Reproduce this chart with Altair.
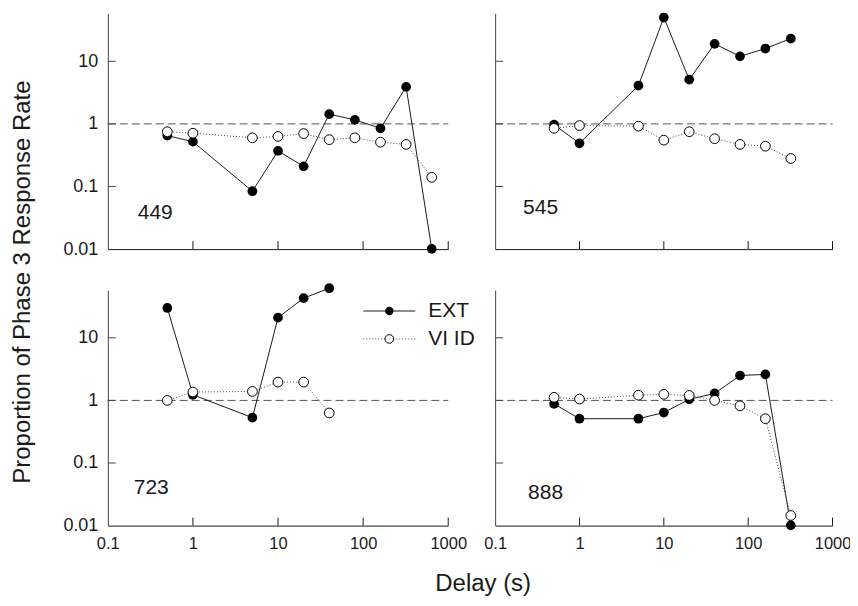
import altair as alt
import pandas as pd

# ---- data ----
delays = [0.5, 1, 5, 10, 20, 40, 80, 160, 320, 640]
subjects = ["449", "545", "723", "888"]
series_names = ["EXT", "VI ID"]

ext_449 = [0.65, 0.52, 0.084, 0.37, 0.21, 1.43, 1.16, 0.85, 3.9, 0.0101]
vi_449 = [0.75, 0.71, 0.60, 0.63, 0.70, 0.56, 0.60, 0.51, 0.47, 0.14]

ext_545 = [0.97, 0.49, 4.1, 50, 5.1, 19, 12, 16, 23]
vi_545 = [0.85, 0.94, 0.92, 0.55, 0.75, 0.58, 0.47, 0.44, 0.28]

ext_723 = [30, 1.23, 0.53, 21, 43, 62]
vi_723 = [1.0, 1.36, 1.39, 1.96, 1.96, 0.63]

ext_888 = [0.88, 0.51, 0.51, 0.64, 1.04, 1.29, 2.5, 2.6, 0.0101]
vi_888 = [1.12, 1.05, 1.21, 1.25, 1.2, 1.0, 0.82, 0.51, 0.0145]

x_ticks = [0.1, 1, 10, 100, 1000]
y_ticks = [0.01, 0.1, 1, 10]
x_domain = [0.1, 1000]
y_domain = [0.01, 58]
reference_level = [1]
x_title = "Delay (s)"
y_title = "Proportion of Phase 3 Response Rate"

# ---- styling ----
W_LEFT, W_RIGHT, H = 341, 338, 236
FONT = "Liberation Sans"
INK = "#1a1a1a"
TICK = 8


def panel(subject, ext, vi, width, show_x, show_y, legend=False, ytitle=False,
          xtitle=False, label_pos=(30, 206)):
    xs = alt.Scale(type="log", domain=x_domain, nice=False)
    ys = alt.Scale(type="log", domain=y_domain, nice=False)
    xaxis = alt.Axis(values=x_ticks, format="~g", labels=show_x, ticks=False, grid=False,
                     domainColor=INK, domainWidth=1, title=None, labelFontSize=16.5,
                     labelFont=FONT, labelColor=INK, labelPadding=10, labelFlush=False,
                     labelOverlap=False)
    yaxis = alt.Axis(values=y_ticks, format="~g", labels=show_y, ticks=False, grid=False,
                     domainColor="#444", domainWidth=1, title=None, labelFontSize=18,
                     labelFont=FONT, labelColor=INK, labelPadding=10, labelFlush=False,
                     labelOverlap=False)

    def X(f):
        return alt.X(f, type="quantitative", scale=xs, axis=xaxis)

    def Y(f):
        return alt.Y(f, type="quantitative", scale=ys, axis=yaxis)

    df_ext = pd.DataFrame({"delay": delays[:len(ext)], "value": ext})
    df_vi = pd.DataFrame({"delay": delays[:len(vi)], "value": vi})

    layers = []
    layers.append(
        alt.Chart(pd.DataFrame({"level": reference_level}))
        .mark_rule(color="#555", strokeDash=[8, 4], strokeWidth=1)
        .encode(y=Y("level"), x=alt.value(0), x2=alt.value(width))
    )
    layers.append(
        alt.Chart(pd.DataFrame({"t": x_ticks[1:]}))
        .mark_rule(color=INK, strokeWidth=1)
        .encode(x=X("t"), y=alt.value(H), y2=alt.value(H - TICK))
    )
    layers.append(
        alt.Chart(pd.DataFrame({"t": y_ticks[1:]}))
        .mark_rule(color="#444", strokeWidth=1)
        .encode(y=Y("t"), x=alt.value(0), x2=alt.value(TICK))
    )
    layers.append(
        alt.Chart(df_ext).mark_line(color=INK, strokeWidth=1)
        .encode(x=X("delay"), y=Y("value"))
    )
    layers.append(
        alt.Chart(df_ext).mark_circle(color="black", opacity=1, size=95)
        .encode(x=X("delay"), y=Y("value"))
    )
    layers.append(
        alt.Chart(df_vi).mark_line(color="#444", strokeWidth=1, strokeDash=[1, 2])
        .encode(x=X("delay"), y=Y("value"))
    )
    layers.append(
        alt.Chart(df_vi).mark_circle(fill="white", stroke="black", strokeWidth=1,
                                     opacity=1, fillOpacity=1, size=95)
        .encode(x=X("delay"), y=Y("value"))
    )
    layers.append(
        alt.Chart(pd.DataFrame({"s": [subject]}))
        .mark_text(font=FONT, fontSize=21, color=INK, align="left", baseline="alphabetic")
        .encode(text="s:N", x=alt.value(label_pos[0]), y=alt.value(label_pos[1]))
    )
    if ytitle:
        layers.append(
            alt.Chart(pd.DataFrame({"s": [y_title]}))
            .mark_text(font=FONT, fontSize=24, color=INK, angle=270, align="center",
                       baseline="alphabetic")
            .encode(text="s:N", x=alt.value(-78), y=alt.value(269))
        )
    if xtitle:
        layers.append(
            alt.Chart(pd.DataFrame({"s": [x_title]}))
            .mark_text(font=FONT, fontSize=24, color=INK, align="center",
                       baseline="alphabetic")
            .encode(text="s:N", x=alt.value(376), y=alt.value(301.5))
        )
    if legend:
        rows = [(series_names[0], 21), (series_names[1], 49)]
        for i, (name, yy) in enumerate(rows):
            d = pd.DataFrame({"s": [name]})
            if i == 0:
                layers.append(alt.Chart(d).mark_rule(color=INK, strokeWidth=1)
                              .encode(x=alt.value(256), x2=alt.value(308), y=alt.value(yy)))
                layers.append(alt.Chart(d).mark_circle(color="black", opacity=1, size=70)
                              .encode(x=alt.value(282), y=alt.value(yy)))
            else:
                layers.append(alt.Chart(d).mark_rule(color="#444", strokeWidth=1,
                                                     strokeDash=[1, 2])
                              .encode(x=alt.value(256), x2=alt.value(308), y=alt.value(yy)))
                layers.append(alt.Chart(d).mark_circle(fill="white", stroke="black",
                                                       strokeWidth=1, opacity=1,
                                                       fillOpacity=1, size=75)
                              .encode(x=alt.value(282), y=alt.value(yy)))
            layers.append(alt.Chart(d).mark_text(font=FONT, fontSize=21, color=INK,
                                                 align="left", baseline="middle")
                          .encode(text="s:N", x=alt.value(321), y=alt.value(yy)))
    return alt.layer(*layers).properties(width=width, height=H)


p449 = panel(subjects[0], ext_449, vi_449, W_LEFT, show_x=False, show_y=True, ytitle=True,
             label_pos=(30, 206))
p545 = panel(subjects[1], ext_545, vi_545, W_RIGHT, show_x=False, show_y=False,
             label_pos=(28, 201))
p723 = panel(subjects[2], ext_723, vi_723, W_LEFT, show_x=True, show_y=True, legend=True,
             xtitle=True, label_pos=(26, 204))
p888 = panel(subjects[3], ext_888, vi_888, W_RIGHT, show_x=True, show_y=False,
             label_pos=(33, 209))

chart = alt.concat(p449, p545, p723, p888, columns=2,
                   spacing={"row": 41, "column": 47}, bounds="flush")
chart = chart.properties(
    padding={"left": 2, "top": 4, "right": -1.5, "bottom": 0}
).configure_view(stroke=None)

chart.save("out.html", embed_options={"renderer": "svg", "actions": False})
